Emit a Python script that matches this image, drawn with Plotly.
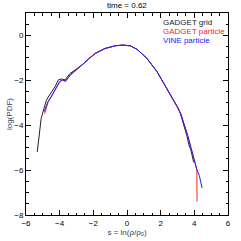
import plotly.graph_objects as go

# GADGET grid (black)
grid_s = [-5.33,-5.25,-5.19,-5.1,-4.99,-4.79,-4.6,-4.49,-4.27,-4.08,-3.88,-3.68,-3.38,-3.08,-2.68,-2.29,-1.89,-1.30,-0.70,-0.25,0.19,0.6,1.18,1.78,2.37,2.77,2.97,3.17,3.36,3.55,3.72,3.78,3.96]
grid_y = [-5.19,-4.6,-4.07,-3.7,-3.41,-2.89,-2.65,-2.52,-2.28,-1.98,-1.94,-1.98,-1.69,-1.54,-1.32,-1.05,-0.80,-0.58,-0.46,-0.43,-0.46,-0.62,-1.02,-1.61,-2.36,-2.89,-3.17,-3.48,-3.93,-4.45,-5.0,-5.05,-5.65]

# GADGET particle (red)
gp_s = [-4.89,-4.8,-4.7,-4.55,-4.4,-4.2,-4.0,-3.85,-3.65,-3.35,-3.0,-2.68,-2.29,-1.89,-1.30,-0.70,-0.25,0.19,0.6,1.18,1.78,2.37,2.8,3.0,3.2,3.4,3.6,3.8,4.0,4.15,4.16]
gp_y = [-3.48,-3.2,-3.0,-2.8,-2.6,-2.38,-2.08,-2.0,-2.05,-1.76,-1.55,-1.33,-1.06,-0.81,-0.58,-0.46,-0.43,-0.46,-0.62,-1.02,-1.61,-2.36,-2.9,-3.2,-3.5,-3.95,-4.45,-5.0,-5.6,-6.0,-7.4]

# VINE particle (blue)
vp_s = [-4.92,-4.82,-4.7,-4.55,-4.4,-4.2,-4.0,-3.85,-3.65,-3.35,-3.0,-2.68,-2.29,-1.89,-1.30,-0.70,-0.25,0.19,0.6,1.18,1.78,2.37,2.8,3.0,3.2,3.4,3.6,3.8,4.0,4.16,4.3,4.36,4.46]
vp_y = [-3.4,-3.15,-2.95,-2.78,-2.58,-2.35,-2.05,-1.98,-2.02,-1.74,-1.54,-1.32,-1.05,-0.80,-0.58,-0.46,-0.43,-0.46,-0.62,-1.02,-1.61,-2.36,-2.89,-3.18,-3.5,-3.95,-4.45,-5.0,-5.6,-6.0,-6.25,-6.44,-6.8]

series = [
    ("GADGET grid", grid_s, grid_y, "#222222"),
    ("GADGET particle", gp_s, gp_y, "#ff2020"),
    ("VINE particle", vp_s, vp_y, "#2020ff"),
]

FONT = "Liberation Sans"
fig = go.Figure()
for name, xs, ys, col in series:
    fig.add_trace(go.Scatter(x=xs, y=ys, mode="lines", name=name,
                             line=dict(color=col, width=1), showlegend=False))

for i, (name, xs, ys, col) in enumerate(series):
    fig.add_annotation(x=0.672, y=0.955 - i * 0.045, xref="paper", yref="paper",
                       text=name, showarrow=False, xanchor="left", yanchor="middle",
                       borderpad=0,
                       font=dict(family=FONT, size=8, color=col))

fig.add_annotation(x=0.5, y=1.0, xref="paper", yref="paper", yshift=8,
                   text="time = 0.62", showarrow=False, xanchor="center", yanchor="middle",
                   borderpad=0,
                   font=dict(family=FONT, size=8, color="black"))

axis_common = dict(showgrid=False, zeroline=False, showline=True, linecolor="black",
                   linewidth=1, mirror="ticks", ticks="inside", ticklen=5,
                   tickcolor="black", tickwidth=1, automargin=False,
                   tickfont=dict(family=FONT, size=8, color="black"))

fig.update_xaxes(range=[-6, 6], dtick=2, tick0=-6,
                 minor=dict(ticks="inside", ticklen=2.5, dtick=0.5, tickcolor="black", showgrid=False),
                 title=dict(text="s = ln(ρ/ρ<sub>0</sub>)", font=dict(family=FONT, size=8), standoff=0),
                 **axis_common)
fig.update_yaxes(range=[-8, 1], dtick=2, tick0=-8,
                 minor=dict(ticks="inside", ticklen=2.5, dtick=0.5, tickcolor="black", showgrid=False),
                 title=dict(text="log(PDF)", font=dict(family=FONT, size=8), standoff=0),
                 **axis_common)

fig.update_layout(width=241, height=241, margin=dict(l=26, r=13, t=13, b=26),
                  plot_bgcolor="white", paper_bgcolor="white", showlegend=False)

fig.write_html("out.html", config={"displayModeBar": False, "staticPlot": True},
               post_script="document.body.style.margin='0';document.body.style.overflow='hidden';")
